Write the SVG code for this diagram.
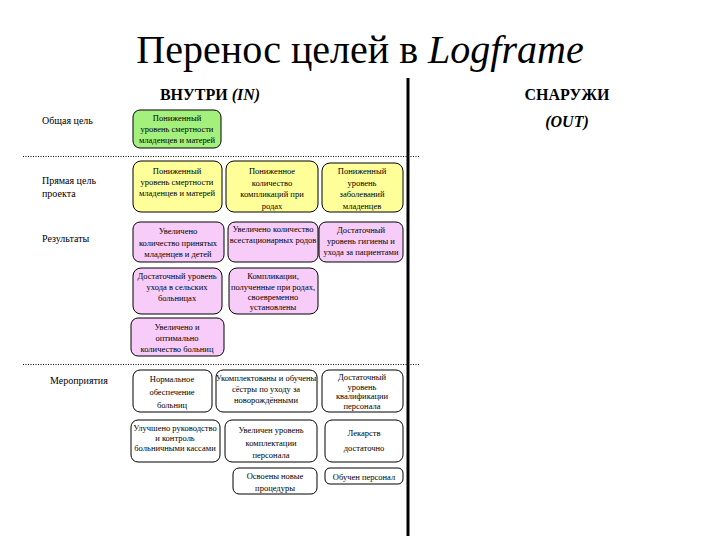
<svg xmlns="http://www.w3.org/2000/svg" width="720" height="540" viewBox="0 0 720 540" font-family="'Liberation Serif', 'DejaVu Serif', serif">
<style>
text{font-family:'Liberation Serif','DejaVu Serif',serif;fill:#000}
.t{font-size:8.5px;text-anchor:middle}
.tl{font-size:10px}
.g{fill:#a4f07c;stroke:#000;stroke-width:1}
.y{fill:#ffff99;stroke:#000;stroke-width:1}
.p{fill:#f8ccf8;stroke:#000;stroke-width:1}
.w{fill:#fff;stroke:#000;stroke-width:1}
.dot{stroke:#000;stroke-width:1;stroke-dasharray:1 1.5;fill:none}
</style>
<rect width="720" height="540" fill="#fff"/>
<text x="360" y="63" font-size="40" text-anchor="middle">Перенос целей в <tspan font-style="italic">Logframe</tspan></text>
<text x="210" y="100" font-size="16" font-weight="bold" text-anchor="middle">ВНУТРИ <tspan font-style="italic">(IN)</tspan></text>
<text x="567" y="100" font-size="16" font-weight="bold" text-anchor="middle">СНАРУЖИ</text>
<text x="567" y="127" font-size="16" font-weight="bold" font-style="italic" text-anchor="middle">(OUT)</text>
<g id="separators">
<line x1="408" y1="78" x2="408" y2="536" stroke="#000" stroke-width="3"/>
<line class="dot" x1="23" y1="156.5" x2="420" y2="156.5"/>
<line class="dot" x1="23" y1="364.5" x2="420" y2="364.5"/>
</g>
<g id="labels">
<text class="tl" x="42" y="124">Общая цель</text>
<text class="tl" x="42" y="184">Прямая цель</text>
<text class="tl" x="42" y="197">проекта</text>
<text class="tl" x="42" y="242">Результаты</text>
<text class="tl" x="50" y="384">Мероприятия</text>
</g>
<g id="n1"><rect class="g" x="133" y="110" width="88" height="38" rx="7"/>
<text class="t" x="177" y="121">Пониженный</text><text class="t" x="177" y="132">уровень смертности</text><text class="t" x="177" y="143">младенцев и матерей</text></g>
<g id="n2"><rect class="y" x="133" y="161" width="89" height="51" rx="8"/>
<text class="t" x="177" y="174">Пониженный</text><text class="t" x="177" y="185">уровень смертности</text><text class="t" x="177" y="196">младенцев и матерей</text></g>
<g id="n3"><rect class="y" x="226" y="161" width="92" height="51" rx="8"/>
<text class="t" x="272" y="174">Пониженное</text><text class="t" x="272" y="185.5">количество</text><text class="t" x="272" y="197">компликаций при</text><text class="t" x="272" y="208.5">родах</text></g>
<g id="n4"><rect class="y" x="322" y="163" width="81" height="49" rx="8"/>
<text class="t" x="362" y="174">Пониженный</text><text class="t" x="362" y="185.5">уровень</text><text class="t" x="362" y="197">заболеваний</text><text class="t" x="362" y="208.5">младенцев</text></g>
<g id="n5"><rect class="p" x="133" y="222" width="91" height="40" rx="7"/>
<text class="t" x="178" y="234">Увеличено</text><text class="t" x="178" y="245.5">количество принятых</text><text class="t" x="178" y="257">младенцев и детей</text></g>
<g id="n6"><rect class="p" x="228" y="222" width="90" height="40" rx="7"/>
<text class="t" x="273" y="232" font-size="8">Увеличено количество</text><text class="t" x="273" y="243" font-size="7.8">всестационарных родов</text></g>
<g id="n7"><rect class="p" x="319" y="222" width="84" height="40" rx="7"/>
<text class="t" x="361" y="233">Достаточный</text><text class="t" x="361" y="244">уровень гигиены и</text><text class="t" x="361" y="255" font-size="7.8">ухода за пациентами</text></g>
<g id="n8"><rect class="p" x="133" y="268" width="89" height="46" rx="8"/>
<text class="t" x="177" y="279">Достаточный уровень</text><text class="t" x="177" y="290">ухода в сельских</text><text class="t" x="177" y="301">больницах</text></g>
<g id="n9"><rect class="p" x="229" y="268" width="89" height="46" rx="8"/>
<text class="t" x="273" y="279">Компликации,</text><text class="t" x="273" y="290" font-size="8">полученные при родах,</text><text class="t" x="273" y="300">своевременно</text><text class="t" x="273" y="310">установлены</text></g>
<g id="n10"><rect class="p" x="131" y="318" width="93" height="38" rx="7"/>
<text class="t" x="177" y="330">Увеличено и</text><text class="t" x="177" y="341">оптимально</text><text class="t" x="177" y="352">количество больниц</text></g>
<g id="n11"><rect class="w" x="133" y="370" width="79" height="42" rx="7"/>
<text class="t" x="172" y="382" font-size="9.5">Нормальное</text><text class="t" x="172" y="395" font-size="9.5">обеспечение</text><text class="t" x="172" y="408" font-size="9.5">больниц</text></g>
<g id="n12"><rect class="w" x="216" y="370" width="101" height="42" rx="7"/>
<text class="t" x="266" y="381" font-size="7.5">Укомплектованы и обучены</text><text class="t" x="266" y="392" font-size="8">сёстры по уходу за</text><text class="t" x="266" y="403" font-size="8">новорождёнными</text></g>
<g id="n13"><rect class="w" x="322" y="370" width="81" height="42" rx="7"/>
<text class="t" x="362" y="380" font-size="8">Достаточный</text><text class="t" x="362" y="389.5" font-size="8">уровень</text><text class="t" x="362" y="399" font-size="8">квалификации</text><text class="t" x="362" y="408.5" font-size="8">персонала</text></g>
<g id="n14"><rect class="w" x="131" y="420" width="89" height="42" rx="7"/>
<text class="t" x="175" y="431" font-size="8">Улучшено руководство</text><text class="t" x="175" y="441" font-size="8">и контроль</text><text class="t" x="175" y="451" font-size="8">больничными кассами</text></g>
<g id="n15"><rect class="w" x="225" y="420" width="92" height="42" rx="7"/>
<text class="t" x="271" y="433" font-size="9.5">Увеличен уровень</text><text class="t" x="271" y="446" font-size="9.5">комплектации</text><text class="t" x="271" y="458" font-size="9.5">персонала</text></g>
<g id="n16"><rect class="w" x="325" y="420" width="78" height="42" rx="7"/>
<text class="t" x="364" y="436" font-size="11">Лекарств</text><text class="t" x="364" y="451" font-size="11">достаточно</text></g>
<g id="n17"><rect class="w" x="233" y="468" width="84" height="26" rx="6"/>
<text class="t" x="275" y="479" font-size="9.5">Освоены новые</text><text class="t" x="275" y="491" font-size="9.5">процедуры</text></g>
<g id="n18"><rect class="w" x="325" y="468" width="78" height="16" rx="5"/>
<text class="t" x="364" y="480" font-size="9">Обучен персонал</text></g>
</svg>
